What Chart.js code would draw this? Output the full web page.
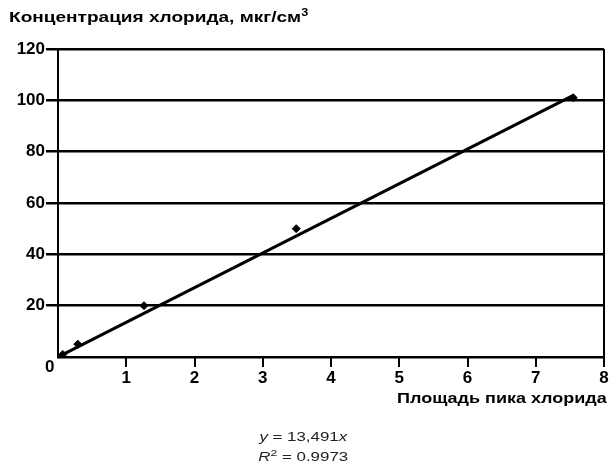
<!DOCTYPE html>
<html>
<head>
<meta charset="utf-8">
<script src="https://cdn.jsdelivr.net/npm/chart.js@4/dist/chart.umd.min.js"></script>
<style>
  html, body { margin: 0; padding: 0; background: #fff; }
  #wrap { position: relative; width: 610px; height: 461px; overflow: hidden; }
  .lbl { position: absolute; font-family: "Liberation Sans", Arial, sans-serif; color: #000; white-space: nowrap; }
  #yTitle { left: 9px; top: 7px; font-size: 15px; font-weight: bold; transform: scaleX(1.27); transform-origin: left center; }
  #xTitle { right: 3px; top: 389px; font-size: 15px; font-weight: bold; transform: scaleX(1.2); transform-origin: right center; }
  #zero { left: 45px; top: 357px; font-size: 17px; font-weight: bold; line-height: 20px; }
  #eq { left: 0; width: 610px; top: 429px; text-align: center; font-size: 12.5px; line-height: 16px; color: #222; transform: scaleX(1.35); transform-origin: 310px center; }
</style>
</head>
<body>
<div id="wrap">
  <canvas id="chart" width="610" height="461"></canvas>
  <div class="lbl" id="yTitle">Концентрация хлорида, мкг/см<sup style="font-size:10px">3</sup></div>
  <div class="lbl" id="xTitle">Площадь пика хлорида</div>
  <div class="lbl" id="zero">0</div>
  <div class="lbl" id="eq"><i>y</i> = 13,491<i>x</i><br><i>R</i><sup style="font-size:9px">2</sup> = 0,9973</div>
</div>
<script>
// data
const peakArea = [0.07, 0.29, 1.26, 3.49, 7.55];
const chloride = [1, 5, 20, 50, 101];
const trendX = [0, 7.55];
const trendY = [0, 101.9];
const xTicks = [0, 1, 2, 3, 4, 5, 6, 7, 8];
const yTicks = [0, 20, 40, 60, 80, 100, 120];

const tickFont = { family: 'Liberation Sans', size: 17, weight: 'bold' };

new Chart(document.getElementById('chart'), {
  type: 'scatter',
  data: {
    datasets: [
      {
        label: 'Trend',
        type: 'line',
        data: trendX.map((x, i) => ({ x, y: trendY[i] })),
        borderColor: '#000', borderWidth: 3, pointRadius: 0, fill: false
      },
      {
        label: 'Points',
        data: peakArea.map((x, i) => ({ x, y: chloride[i] })),
        pointStyle: 'rectRot', pointRadius: 4, backgroundColor: '#000', borderColor: '#000'
      }
    ]
  },
  options: {
    responsive: false,
    animation: false,
    layout: { padding: { top: 49, right: 6, left: 0, bottom: 0 } },
    plugins: { legend: { display: false }, tooltip: { enabled: false } },
    scales: {
      x: {
        type: 'linear', min: 0, max: 8,
        afterFit: s => { s.height = 104; },
        afterBuildTicks: s => { s.ticks = xTicks.map(v => ({ value: v })); },
        ticks: { color: '#000', font: tickFont, padding: 1, callback: v => v === 0 ? '' : v },
        grid: {
          drawOnChartArea: true, tickLength: 10,
          color: c => c.tick && c.tick.value === 8 ? '#000' : 'rgba(0,0,0,0)',
          tickColor: c => c.tick && c.tick.value === 0 ? 'rgba(0,0,0,0)' : '#000',
          lineWidth: 2, tickWidth: 2
        },
        border: { color: '#000', width: 2 }
      },
      y: {
        type: 'linear', min: 0, max: 120,
        afterFit: s => { s.width = 58; },
        afterBuildTicks: s => { s.ticks = yTicks.map(v => ({ value: v })); },
        ticks: { color: '#000', font: tickFont, padding: 1, callback: v => v === 0 ? '' : v },
        grid: {
          color: '#000', lineWidth: 2.5, tickLength: 12,
          tickColor: c => c.tick && c.tick.value === 0 ? 'rgba(0,0,0,0)' : '#000'
        },
        border: { color: '#000', width: 2 }
      }
    }
  }
});
</script>
</body>
</html>
